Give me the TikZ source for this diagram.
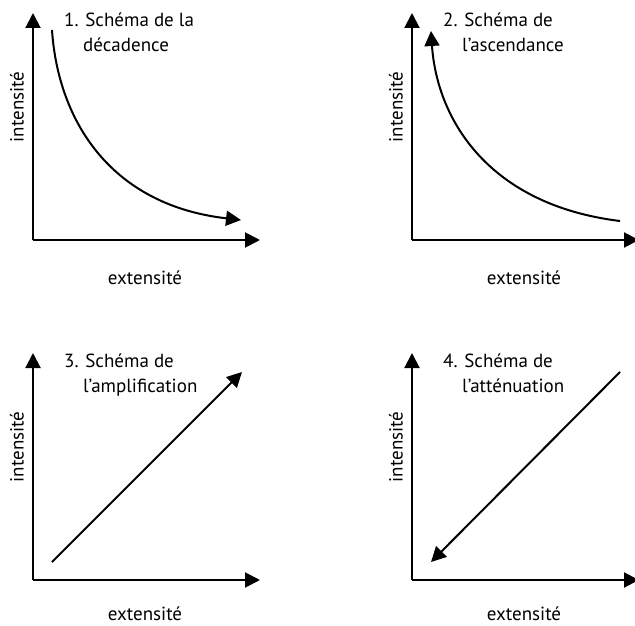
\documentclass[tikz,border=0pt]{standalone}
\usepackage{fontspec}
\setmainfont{PT Sans}
\usetikzlibrary{arrows.meta}

\tikzset{
  axis/.style={line width=2pt,-{Triangle[length=15pt,width=15pt]}},
  curve/.style={line width=2pt,-{Triangle[length=15pt,width=15pt]}},
  title/.style={font=\fontsize{19}{22}\selectfont,inner sep=0pt,anchor=base west},
  lab/.style={font=\fontsize{19}{22}\selectfont,inner sep=0pt}
}

\begin{document}
\begin{tikzpicture}[x=1pt,y=-1pt]
\useasboundingbox (0,0) rectangle (635,626);

% Panel 1: decadence
\coordinate (o1) at (33,240);
\coordinate (y1) at (33,13);
\coordinate (x1) at (260,240);
\draw[axis] (o1) -- (y1);
\draw[axis] (o1) -- (x1);
\coordinate (c1s) at (52,30);
\coordinate (c1e) at (241,220);
\draw[curve] (c1s) .. controls (58,120) and (110,205) .. (c1e);
\node[title] (t1a) at (64,27) {1. Schéma de la};
\node[title] (t1b) at (83,52) {décadence};
\node[lab,rotate=90] (i1) at (17,107) {intensité};
\node[lab] (e1) at (145,278) {extensité};

% Panel 2: ascendance
\coordinate (o2) at (412,240);
\coordinate (y2) at (412,13);
\coordinate (x2) at (639,240);
\draw[axis] (o2) -- (y2);
\draw[axis] (o2) -- (x2);
\coordinate (c2s) at (620,221);
\coordinate (c2e) at (431,31);
\draw[curve] (c2s) .. controls (489,205) and (437,120) .. (c2e);
\node[title] (t2a) at (443,27) {2. Schéma de};
\node[title] (t2b) at (462,52) {l’ascendance};
\node[lab,rotate=90] (i2) at (396,107) {intensité};
\node[lab] (e2) at (524,278) {extensité};

% Panel 3: amplification
\coordinate (o3) at (33,580);
\coordinate (y3) at (33,353);
\coordinate (x3) at (260,580);
\draw[axis] (o3) -- (y3);
\draw[axis] (o3) -- (x3);
\coordinate (c3s) at (52,562);
\coordinate (c3e) at (242,372);
\draw[curve] (c3s) -- (c3e);
\node[title] (t3a) at (64,367) {3. Schéma de};
\node[title] (t3b) at (83,392) {l’amplification};
\node[lab,rotate=90] (i3) at (17,447) {intensité};
\node[lab] (e3) at (145,614) {extensité};

% Panel 4: attenuation
\coordinate (o4) at (412,580);
\coordinate (y4) at (412,353);
\coordinate (x4) at (639,580);
\draw[axis] (o4) -- (y4);
\draw[axis] (o4) -- (x4);
\coordinate (c4s) at (620,372);
\coordinate (c4e) at (431,562);
\draw[curve] (c4s) -- (c4e);
\node[title] (t4a) at (443,367) {4. Schéma de};
\node[title] (t4b) at (462,392) {l’atténuation};
\node[lab,rotate=90] (i4) at (396,447) {intensité};
\node[lab] (e4) at (524,614) {extensité};

\end{tikzpicture}
\end{document}
